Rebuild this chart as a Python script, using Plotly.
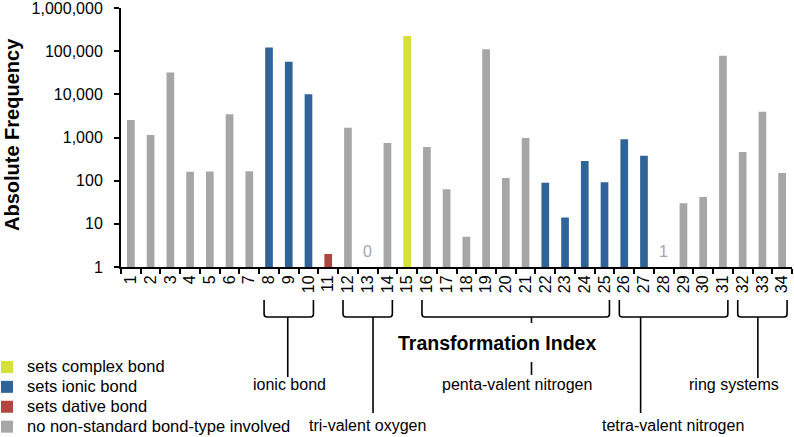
import plotly.graph_objects as go

# ---------------- data ----------------
transformation_index = [str(i) for i in range(1, 35)]
absolute_frequency = [2550, 1140, 32000, 161, 163, 3450, 165, 121000, 56500, 10000,
                      2, 1690, 0, 745, 225000, 600, 63, 5, 111000, 116,
                      975, 89, 14, 285, 92, 910, 378, 1, 30, 42,
                      78000, 460, 3970, 150]
bond_type = (["none"] * 7 + ["ionic"] * 3 + ["dative"] + ["none"] * 3 + ["complex"]
             + ["none"] * 6 + ["ionic"] * 6 + ["none"] * 7)
legend_order = ["complex", "ionic", "dative", "none"]
legend_names = {
    "complex": "sets complex bond",
    "ionic": "sets ionic bond",
    "dative": "sets dative bond",
    "none": "no non-standard bond-type involved",
}
colors = {"complex": "#D6E03C", "ionic": "#2F6499", "dative": "#B0463F", "none": "#A6A6A6"}
y_tick_values = [1, 10, 100, 1000, 10000, 100000, 1000000]

# groups: (label, first index, last index)
groups = [
    ("ionic bond", 8, 10),
    ("tri-valent oxygen", 12, 14),
    ("penta-valent nitrogen", 16, 25),
    ("tetra-valent nitrogen", 26, 31),
    ("ring systems", 32, 34),
]

# ---------------- layout geometry (pixels) ----------------
W, H = 794, 437
ML, MR, MT, MB = 121, 2, 8, 170
PW, PH = W - ML - MR, H - MT - MB
N = len(transformation_index)
FONT = "Liberation Sans, Arial, sans-serif"
Y_RANGE = [0, 6]


def px_x(px):
    return (px - ML) / PW


def px_y(py):
    return (MT + PH - py) / PH


def cat_x(i):  # 0-based category index -> paper x
    return (i + 0.5) / N


fig = go.Figure()
for t in legend_order:
    xs = [transformation_index[i] for i in range(N) if bond_type[i] == t and absolute_frequency[i] > 0]
    ys = [absolute_frequency[i] for i in range(N) if bond_type[i] == t and absolute_frequency[i] > 0]
    fig.add_trace(go.Bar(
        x=xs, y=ys, name='<span style="font-size:16.5px">%s</span>' % legend_names[t],
        marker=dict(color=colors[t], line=dict(width=0)),
    ))

# labels for zero / one values (bars too small to see on the log axis)
annotations = []
for i, v in enumerate(absolute_frequency):
    if v <= 1:
        annotations.append(dict(
            x=cat_x(i), y=0.36 / (Y_RANGE[1] - Y_RANGE[0]), xref="paper", yref="paper",
            text=str(v), showarrow=False, font=dict(size=16, color="#A6A6A6", family=FONT),
            xanchor="center", yanchor="middle"))

# brackets
shapes = []
stem_pos = {"ionic bond": 7.95, "tri-valent oxygen": 12.27, "penta-valent nitrogen": 20.3,
            "tetra-valent nitrogen": 25.83, "ring systems": 31.77}
stem_end = {"ionic bond": 377, "tri-valent oxygen": 413, "penta-valent nitrogen": 375,
            "tetra-valent nitrogen": 413, "ring systems": 378}
label_pos = {"ionic bond": (289, 384), "tri-valent oxygen": (367.5, 425),
             "penta-valent nitrogen": (517, 384), "tetra-valent nitrogen": (672.5, 425),
             "ring systems": (733.5, 384)}
line = dict(color="black", width=1.6)
top_px, bot_px, r_px = 300, 317, 3
for name, a, b in groups:
    xl = cat_x(a - 1) - 0.25 / N
    xr = cat_x(b - 1) + 0.25 / N
    yt, yb = px_y(top_px), px_y(bot_px)
    rx, ry = r_px / PW, r_px / PH
    path = (f"M {xl},{yt} L {xl},{yb + ry} Q {xl},{yb} {xl + rx},{yb} "
            f"L {xr - rx},{yb} Q {xr},{yb} {xr},{yb + ry} L {xr},{yt}")
    shapes.append(dict(type="path", path=path, xref="paper", yref="paper", line=line))
    sx = cat_x(stem_pos[name])
    if name == "penta-valent nitrogen":
        shapes.append(dict(type="line", xref="paper", yref="paper", x0=sx, x1=sx,
                           y0=yb, y1=px_y(323), line=line))
        shapes.append(dict(type="line", xref="paper", yref="paper", x0=sx, x1=sx,
                           y0=px_y(362), y1=px_y(stem_end[name]), line=line))
    else:
        shapes.append(dict(type="line", xref="paper", yref="paper", x0=sx, x1=sx,
                           y0=yb, y1=px_y(stem_end[name]), line=line))
    lx, ly = label_pos[name]
    annotations.append(dict(x=px_x(lx), y=px_y(ly), xref="paper", yref="paper", text=name,
                            showarrow=False, xanchor="center", yanchor="middle",
                            font=dict(size=16, color="black", family=FONT)))

annotations.append(dict(x=px_x(497), y=px_y(343), xref="paper", yref="paper",
                        text="<b>Transformation Index</b>", showarrow=False,
                        xanchor="center", yanchor="middle",
                        font=dict(size=19.5, color="black", family=FONT)))
annotations.append(dict(x=px_x(12), y=px_y(135), xref="paper", yref="paper",
                        text="<b>Absolute Frequency</b>", showarrow=False, textangle=-90,
                        xanchor="center", yanchor="middle",
                        font=dict(size=20, color="black", family=FONT)))

fig.update_layout(
    width=W, height=H, margin=dict(l=ML, r=MR, t=MT, b=MB, autoexpand=False),
    paper_bgcolor="white", plot_bgcolor="white",
    barmode="overlay", bargap=0.61,
    font=dict(family=FONT, size=16, color="black"),
    showlegend=True,
    legend=dict(xref="paper", yref="paper", x=px_x(-13), y=px_y(352),
                xanchor="left", yanchor="top", font=dict(size=13, family=FONT),
                itemwidth=30, bgcolor="rgba(0,0,0,0)", traceorder="normal",
                itemclick=False, itemdoubleclick=False),
    xaxis=dict(type="category", categoryorder="array", categoryarray=transformation_index,
               tickson="boundaries", ticks="outside", ticklen=5, tickwidth=1.5, tickcolor="black",
               showline=True, linecolor="black", linewidth=2, showgrid=False,
               tickangle=-90, tickfont=dict(size=16, family=FONT, color="black")),
    yaxis=dict(type="log", range=Y_RANGE, tickvals=y_tick_values,
               ticktext=[f"{v:,}" for v in y_tick_values],
               ticks="outside", ticklen=5, tickwidth=1.5, tickcolor="black",
               showline=True, linecolor="black", linewidth=2, showgrid=False, zeroline=False,
               ticklabeloverflow="allow", ticklabelstandoff=8,
               tickfont=dict(size=16, family=FONT, color="black")),
    shapes=shapes, annotations=annotations,
)

fig.write_html("out.html", config={"displayModeBar": False},
               post_script="document.body.style.margin='0';document.body.style.overflow='hidden';")
